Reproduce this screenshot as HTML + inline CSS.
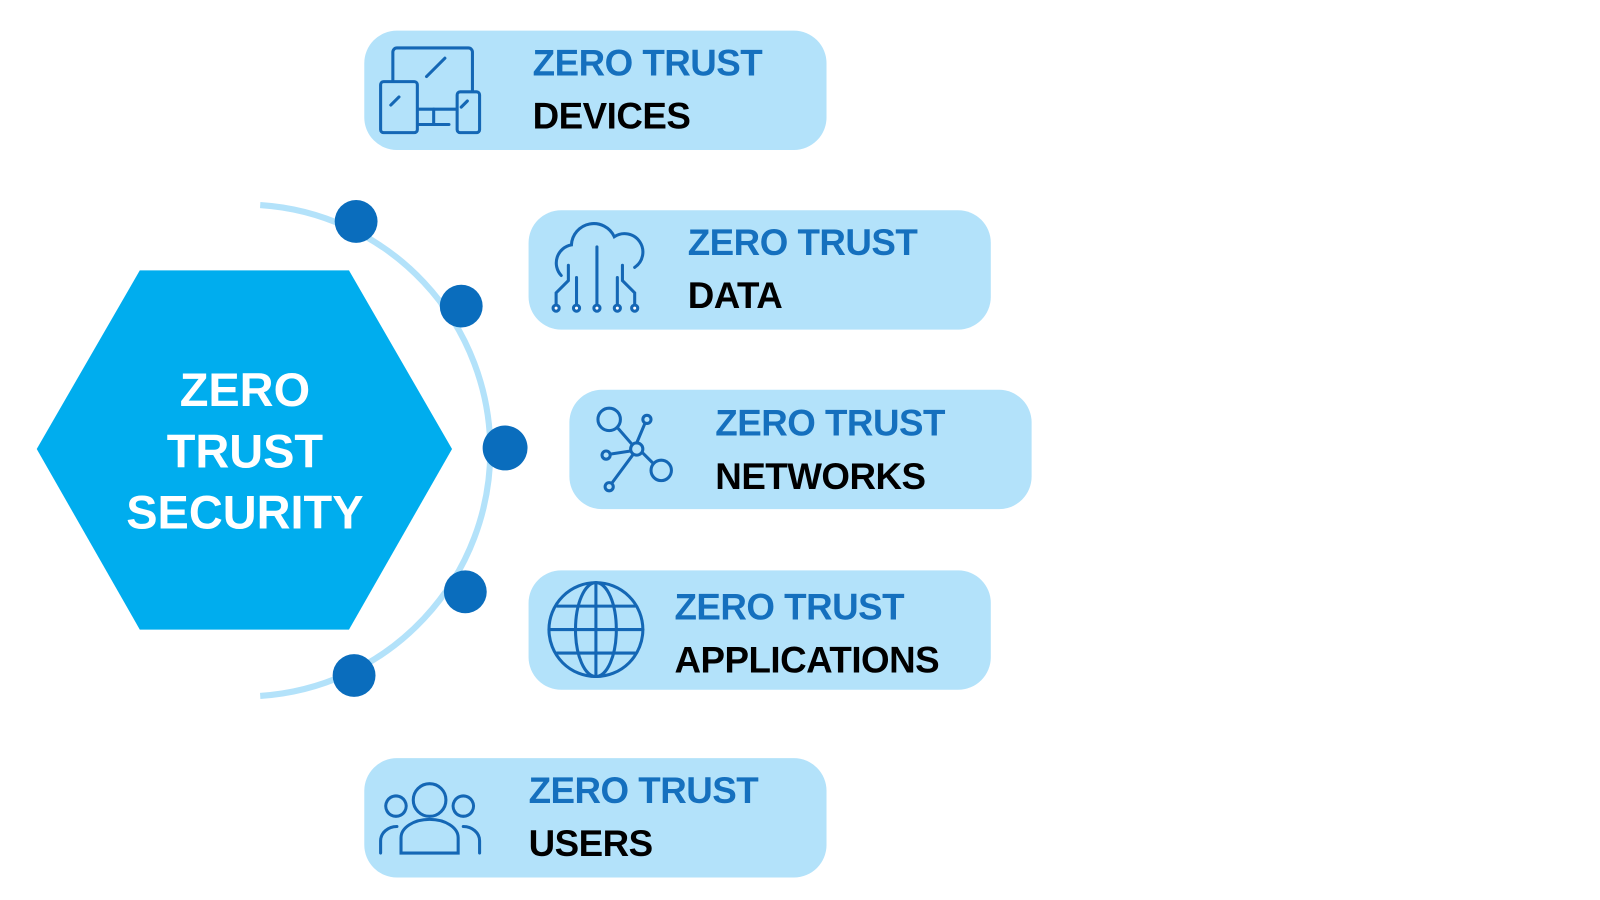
<!DOCTYPE html>
<html><head><meta charset="utf-8"><style>
html,body{margin:0;width:1600px;height:900px;background:#fff;overflow:hidden}
#w{position:absolute;left:0;top:0;width:1568px;height:882px;transform:scale(1.0204);transform-origin:0 0;font-family:"Liberation Sans",sans-serif}
.b{position:absolute;width:453px;height:117px;border-radius:32px;background:#b3e2fa}
.t{position:absolute;font-weight:bold;font-size:36px;line-height:52px;white-space:nowrap;letter-spacing:-0.5px}
.t .a{color:#1570be}.t .k{color:#000}
</style></head><body><div id="w">
<svg width="1568" height="882" style="position:absolute;left:0;top:0">
<polygon points="36,440 137,265 342,265 443,440 342,617 137,617" fill="#00adee"/>
<path d="M255,201 A241,241 0 0 1 255,682" fill="none" stroke="#b3e2fa" stroke-width="6"/>
<g fill="#0a6dbd"><circle cx="349" cy="217" r="21"/><circle cx="452" cy="300" r="21"/><circle cx="495" cy="439" r="22"/><circle cx="456" cy="580" r="21"/><circle cx="347" cy="662" r="21"/></g>
<text x="240" y="398" font-size="46" font-weight="bold" fill="#fff" text-anchor="middle" font-family="Liberation Sans">ZERO</text>
<text x="240" y="458" font-size="46" font-weight="bold" fill="#fff" text-anchor="middle" font-family="Liberation Sans">TRUST</text>
<text x="240" y="518" font-size="46" font-weight="bold" fill="#fff" text-anchor="middle" font-family="Liberation Sans">SECURITY</text>
</svg>
<div class="b" style="left:357px;top:30px"></div>
<div class="b" style="left:518px;top:206px"></div>
<div class="b" style="left:558px;top:382px"></div>
<div class="b" style="left:518px;top:559px"></div>
<div class="b" style="left:357px;top:743px"></div>
<div class="t" style="left:522px;top:36px"><div class="a">ZERO TRUST</div><div class="k">DEVICES</div></div>
<div class="t" style="left:674px;top:212px"><div class="a">ZERO TRUST</div><div class="k">DATA</div></div>
<div class="t" style="left:701px;top:389px"><div class="a">ZERO TRUST</div><div class="k">NETWORKS</div></div>
<div class="t" style="left:661px;top:569px"><div class="a">ZERO TRUST</div><div class="k">APPLICATIONS</div></div>
<div class="t" style="left:518px;top:749px"><div class="a">ZERO TRUST</div><div class="k">USERS</div></div>
<svg width="1568" height="882" style="position:absolute;left:0;top:0" fill="none" stroke="#1467b5" stroke-width="3" stroke-linecap="round">
<rect x="385" y="47" width="78" height="60" rx="4"/><rect x="373" y="80" width="36" height="50" rx="3" fill="#b3e2fa"/><rect x="448" y="90" width="22" height="40" rx="3" fill="#b3e2fa"/><path d="M410,122h30M425,107v15M418,75l18-18M383,103l8-8M452,105l6-6"/>
<path d="M550,270a18,18 0 0 1 10,-30a22,22 0 0 1 42,-8a14,14 0 0 1 20,30"/><path d="M545,302v-15l12-12v-15M565,302v-30M585,302v-60M605,302v-30M622,302v-15l-12-12v-15"/><g fill="#fff"><circle cx="545" cy="302" r="3"/><circle cx="565" cy="302" r="3"/><circle cx="585" cy="302" r="3"/><circle cx="605" cy="302" r="3"/><circle cx="622" cy="302" r="3"/></g>
<circle cx="597" cy="411" r="11"/><circle cx="624" cy="440" r="6"/><circle cx="648" cy="461" r="10"/><circle cx="634" cy="411" r="4"/><circle cx="594" cy="446" r="4"/><circle cx="597" cy="477" r="4"/><path d="M605,419l14,16M630,444l10,10M624,434l8-19M618,442l-20,3M620,446l-20,27"/>
<circle cx="584" cy="617" r="46"/><ellipse cx="584" cy="617" rx="20" ry="46"/><path d="M584,571v92M538,617h92M546,594h76M546,640h76"/>
<circle cx="421" cy="784" r="16"/><path d="M393,836v-15a28,18 0 0 1 56,0v15zM388,800a10,10 0 1 1 .1,0M454,800a10,10 0 1 1 .1,0M373,836v-12a16,14 0 0 1 16,-14M470,836v-12a16,14 0 0 0 -16,-14"/>
</svg>
</div></body></html>
